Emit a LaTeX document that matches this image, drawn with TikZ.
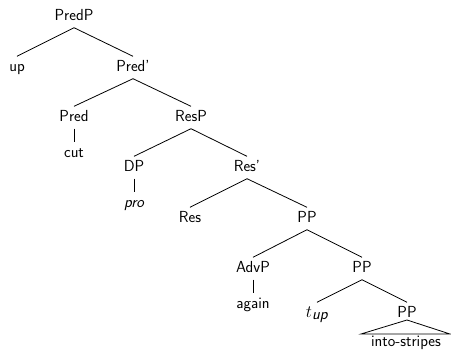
\documentclass[tikz,border=0pt]{standalone}
\usepackage{fontspec}
\begin{document}
\begin{tikzpicture}[x=1pt,y=-1pt,
  lab/.style={anchor=base,font=\fontsize{16}{19}\selectfont\sffamily,
    text height=11pt,text depth=4pt,inner xsep=0pt,inner ysep=3.5pt},
  edge/.style={draw,line width=0.8pt}]
\useasboundingbox (0,0) rectangle (451,349);
\node[lab] (PredP) at (74,20) {PredP};
\node[lab] (up) at (17,71) {up};
\node[lab] (Predbar) at (133,71) {Pred'};
\node[lab] (Pred) at (74,121) {Pred};
\node[lab] (ResP) at (191,121) {ResP};
\node[lab] (cut) at (74,157) {cut};
\node[lab] (DP) at (134,171) {DP};
\node[lab] (Resbar) at (247,171) {Res'};
\node[lab] (pro) at (134,207) {\itshape pro};
\node[lab] (Res) at (190,222) {Res};
\node[lab] (PP) at (307,222) {PP};
\node[lab] (AdvP) at (253,272) {AdvP};
\node[lab] (PPb) at (362,272) {PP};
\node[lab] (again) at (253,308) {again};
\node[lab] (tup) at (317,317) {$t_{\textit{up}}$};
\node[lab] (PPc) at (407,317) {PP};
\node[lab] (into) at (406,346) {into-stripes};
\coordinate (apex) at (407,320);
\coordinate (triL) at (361,334);
\coordinate (triR) at (450,334);
\draw[edge] (PredP.south) -- (up.north);
\draw[edge] (PredP.south) -- (Predbar.north);
\draw[edge] (Predbar.south) -- (Pred.north);
\draw[edge] (Predbar.south) -- (ResP.north);
\draw[edge] (Pred.south) -- (cut.north);
\draw[edge] (ResP.south) -- (DP.north);
\draw[edge] (ResP.south) -- (Resbar.north);
\draw[edge] (DP.south) -- (pro.north);
\draw[edge] (Resbar.south) -- (Res.north);
\draw[edge] (Resbar.south) -- (PP.north);
\draw[edge] (PP.south) -- (AdvP.north);
\draw[edge] (PP.south) -- (PPb.north);
\draw[edge] (AdvP.south) -- (again.north);
\draw[edge] (PPb.south) -- (tup.north);
\draw[edge] (PPb.south) -- (PPc.north);
\draw[edge] (apex) -- (triL) -- (triR) -- cycle;
\end{tikzpicture}
\end{document}
